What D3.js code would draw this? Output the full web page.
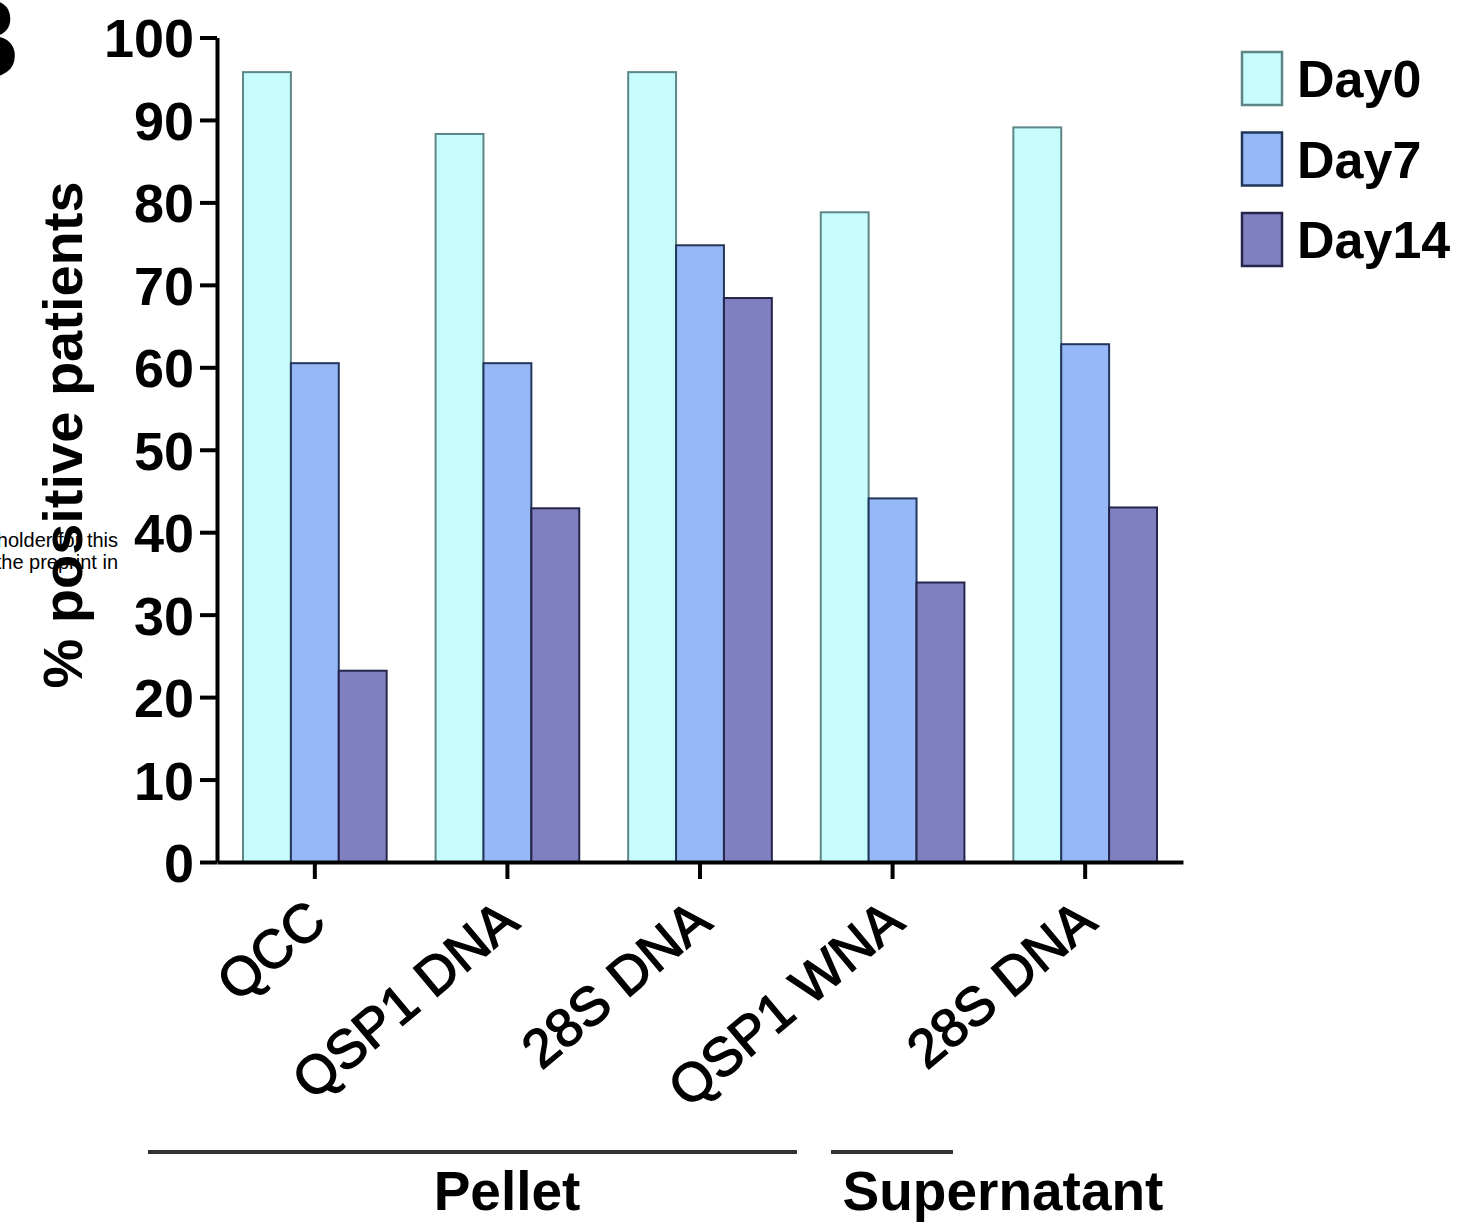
<!DOCTYPE html>
<html>
<head>
<meta charset="utf-8">
<script src="https://cdn.jsdelivr.net/npm/d3@7"></script>
<style>
  body { margin: 0; background: #fff; }
  text { font-family: Arial, "Liberation Sans", Helvetica, sans-serif; fill: #000; }
</style>
</head>
<body>
<script>
var width = 1465, height = 1232;

// data
var categories = ["QCC", "QSP1 DNA", "28S DNA", "QSP1 WNA", "28S DNA"];
var days = ["Day0", "Day7", "Day14"];
var day0 = [95.8, 88.3, 95.8, 78.8, 89.1];
var day7 = [60.5, 60.5, 74.8, 44.1, 62.8];
var day14 = [23.2, 42.9, 68.4, 33.9, 43.0];
var yTicks = [0, 10, 20, 30, 40, 50, 60, 70, 80, 90, 100];
var groups = [
    { name: "Pellet", from: 0, to: 2 },
    { name: "Supernatant", from: 3, to: 4 }
];

var fills = { Day0: "#c6fcfc", Day7: "#96b8f6", Day14: "#8080c0" };
var strokes = { Day0: "#5e8686", Day7: "#22365c", Day14: "#24244c" };

var svg = d3.select("body").append("svg")
    .attr("width", width)
    .attr("height", height);

svg.append("rect")
    .attr("width", width)
    .attr("height", height)
    .attr("fill", "#fff");

var axisX = 217, baseY = 862, topY = 37.5;

var yScale = d3.scaleLinear().domain([0, 100]).range([baseY, topY]);
var xScale = d3.scaleBand()
    .domain(d3.range(categories.length))
    .range([axisX, 1183])
    .paddingInner(0.254)
    .paddingOuter(0.135);
var innerScale = d3.scaleBand().domain(days).range([0, xScale.bandwidth()]);

var rows = categories.map(function(c, i) {
    return { index: i, values: [
        { day: "Day0", value: day0[i] },
        { day: "Day7", value: day7[i] },
        { day: "Day14", value: day14[i] }
    ] };
});

// bars
var group = svg.selectAll(".group")
    .data(rows)
    .enter().append("g")
    .attr("class", "group")
    .attr("transform", function(d) { return "translate(" + xScale(d.index) + ",0)"; });

group.selectAll("rect")
    .data(function(d) { return d.values; })
    .enter().append("rect")
    .attr("x", function(d) { return innerScale(d.day); })
    .attr("y", function(d) { return yScale(d.value); })
    .attr("width", innerScale.bandwidth())
    .attr("height", function(d) { return baseY - yScale(d.value); })
    .attr("fill", function(d) { return fills[d.day]; })
    .attr("stroke", function(d) { return strokes[d.day]; })
    .attr("stroke-width", 2);

// y axis
var yAxis = d3.axisLeft(yScale)
    .tickValues(yTicks)
    .tickSize(17)
    .tickSizeOuter(0)
    .tickPadding(6);

var yG = svg.append("g")
    .attr("transform", "translate(" + axisX + ",0)")
    .call(yAxis);
yG.selectAll("path, line").attr("stroke", "#000").attr("stroke-width", 4);
yG.selectAll("text")
    .attr("font-size", 54)
    .attr("font-weight", "bold")
    .attr("dy", "0.36em");

// x axis
var xAxis = d3.axisBottom(xScale)
    .tickSize(17)
    .tickSizeOuter(0)
    .tickFormat(function(i) { return categories[i]; });

var xG = svg.append("g")
    .attr("transform", "translate(0," + baseY + ")")
    .call(xAxis);
xG.selectAll("path, line").attr("stroke", "#000").attr("stroke-width", 4);
xG.selectAll("text")
    .attr("font-size", 54)
    .attr("stroke", "#000")
    .attr("stroke-width", 1.4)
    .attr("text-anchor", "end")
    .attr("y", 0)
    .attr("dy", 0)
    .attr("transform", "translate(14,64) rotate(-40)");

// y label
svg.append("text")
    .attr("transform", "translate(82,435) rotate(-90)")
    .attr("text-anchor", "middle")
    .attr("font-size", 56)
    .attr("font-weight", "bold")
    .text("% positive patients");

// group brackets
var groupLines = [{ x1: 148, x2: 797 }, { x1: 831, x2: 953 }];
var groupText = [507, 1003];
groups.forEach(function(g, i) {
    svg.append("line")
        .attr("x1", groupLines[i].x1)
        .attr("x2", groupLines[i].x2)
        .attr("y1", 1152)
        .attr("y2", 1152)
        .attr("stroke", "#333")
        .attr("stroke-width", 4);
    svg.append("text")
        .attr("x", groupText[i])
        .attr("y", 1210)
        .attr("text-anchor", "middle")
        .attr("font-size", 55)
        .attr("font-weight", "bold")
        .text(g.name);
});

// legend
var legend = svg.selectAll(".legend")
    .data(days)
    .enter().append("g")
    .attr("class", "legend")
    .attr("transform", function(d, i) { return "translate(1242," + (52 + i * 80.5) + ")"; });

legend.append("rect")
    .attr("width", 40)
    .attr("height", 53)
    .attr("fill", function(d) { return fills[d]; })
    .attr("stroke", function(d) { return strokes[d]; })
    .attr("stroke-width", 2.5);

legend.append("text")
    .attr("x", 55)
    .attr("y", 45)
    .attr("font-size", 52)
    .attr("font-weight", "bold")
    .text(function(d) { return d; });

// panel letter, cut by the page edge
svg.append("text")
    .attr("x", 20)
    .attr("y", 78)
    .attr("text-anchor", "end")
    .attr("font-size", 115)
    .attr("font-weight", "bold")
    .text("B");

// preprint watermark fragment
svg.append("text")
    .attr("x", 118)
    .attr("y", 547)
    .attr("text-anchor", "end")
    .attr("font-size", 20)
    .text("holder for this");
svg.append("text")
    .attr("x", 118)
    .attr("y", 569)
    .attr("text-anchor", "end")
    .attr("font-size", 20)
    .text("the preprint in");
</script>
</body>
</html>
